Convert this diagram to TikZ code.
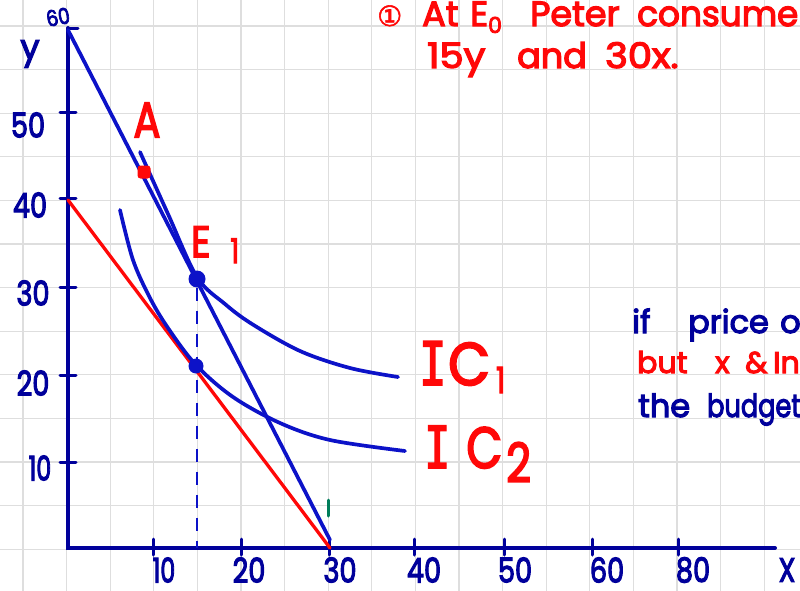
\documentclass[tikz,border=0pt]{standalone}
\usepackage{fontspec}
\usepackage{graphicx}
\setmainfont{Poppins}[FakeBold=3.5]
\newfontfamily\symf{DejaVu Sans}[FakeBold=2]
\newfontfamily\serifI{DejaVu Sans Mono}[FakeBold=3]
\definecolor{navy}{RGB}{0,0,155}
\definecolor{lblue}{RGB}{12,18,200}
\definecolor{hred}{RGB}{255,8,8}
\definecolor{hgreen}{RGB}{0,125,90}
\definecolor{gridc}{RGB}{222,222,222}
\newcommand{\fs}[1]{\fontsize{#1}{#1}\selectfont}
\newcommand{\sx}[2]{\scalebox{#1}[1]{#2}}
\newcommand{\wb}[2]{\makebox[#1][l]{#2}}
\tikzset{
  gridline/.style={draw=gridc, line width=1.3pt},
  axisline/.style={draw=navy, line width=4pt, line cap=round},
  tickline/.style={draw=navy, line width=3pt, line cap=round},
  bline/.style={draw=lblue, line width=3.7pt, line cap=round},
  rline/.style={draw=hred, line width=3.3pt, line cap=round},
  icline/.style={draw=lblue, line width=3.7pt, line cap=round},
  dashline/.style={draw=lblue, line width=2.6pt, dash pattern=on 13pt off 10pt},
  numlab/.style={text=navy, inner sep=0pt, font=\fs{34}},
  redlab/.style={text=hred, inner sep=0pt},
  bluetxt/.style={text=navy, inner sep=0pt},
  dotb/.style={circle, fill=lblue, inner sep=0pt, minimum size=17pt},
  dotr/.style={rectangle, rounded corners=3pt, fill=hred, inner sep=0pt, minimum size=13pt},
}
\begin{document}
\begin{tikzpicture}[x=1pt,y=-1pt]
\useasboundingbox (0,0) rectangle (800,591);
\clip (0,0) rectangle (800,591);
\fill[white] (0,0) rectangle (800,591);
% grid
\foreach \i in {0,...,17} \draw[gridline] ({23+43.6*\i},0) -- ({23+43.6*\i},591);
\foreach \j in {0,...,13} \draw[gridline] (0,{26+43.6*\j}) -- (800,{26+43.6*\j});
% axes
\coordinate (O) at (68,548);
\coordinate (Ytop) at (68,28);
\coordinate (Xend) at (775,548);
\draw[axisline] (Ytop) -- (O) -- (Xend);
% y ticks
\foreach \yy in {113,198,287,375,462} \draw[tickline] (60,\yy) -- (76,\yy);
\draw[tickline] (68,29) -- (78,29);
% x ticks
\foreach \xx in {153,241,329,414,504,592,678} \draw[tickline] (\xx,539) -- (\xx,555);
% budget lines
\coordinate (B0) at (68,30);
\coordinate (B1) at (330,540);
\coordinate (R0) at (68,200);
\coordinate (R1) at (330,548);
\draw[bline] (B0) -- (B1);
\draw[rline] (R0) -- (R1);
% indifference curves
\draw[icline] plot[smooth, tension=0.55] coordinates {(140,152) (168,214) (197,277) (225,304) (252,324) (300,351) (350,368) (398,377)};
\draw[icline] plot[smooth, tension=0.55] coordinates {(120,210) (133,260) (150,298) (168,328) (196,365) (233,397) (280,423) (330,440) (405,451)};
% points
\node[dotr] (A) at (144,172) {};
\node[dotb] (E1) at (197,279) {};
\node[dotb, minimum size=15pt] (E2) at (196,366) {};
\draw[dashline] (E1.south) -- (E1.south |- O);
% green mark
\coordinate (G0) at (328,500);
\coordinate (G1) at (328,516);
\draw[draw=hgreen, line width=3pt, line cap=round] (G0) -- (G1);
% axis labels
\node[numlab, font=\fs{34}] (ylab) at (30,54) {y};
\node[numlab, font=\fs{22}, rotate=10] (y60) at (58,17) {\sx{0.85}{60}};
\node[numlab] (y50) at (28,125) {\sx{0.8}{50}};
\node[numlab] (y40) at (30,205) {\sx{0.8}{40}};
\node[numlab] (y30) at (33,293) {\sx{0.8}{30}};
\node[numlab] (y20) at (33,383) {\sx{0.8}{20}};
\node[numlab] (y10) at (40,468) {\sx{0.7}{10}};
\node[numlab] (x10) at (164,570) {\sx{0.7}{10}};
\node[numlab] (x20) at (249,570) {\sx{0.8}{20}};
\node[numlab] (x30) at (340,570) {\sx{0.8}{30}};
\node[numlab] (x40) at (424,570) {\sx{0.8}{40}};
\node[numlab] (x50) at (515,570) {\sx{0.8}{50}};
\node[numlab] (x60) at (607,570) {\sx{0.8}{60}};
\node[numlab] (x80) at (693,570) {\sx{0.8}{80}};
\node[numlab] (xlab) at (787,570) {\sx{0.8}{X}};
% red labels
\node[redlab, font=\fs{50}] (Alab) at (147,120) {\sx{0.8}{A}};
\node[redlab, font=\fs{44}, anchor=base west] (E1lab) at (191,257) {\sx{0.85}{E}\hspace{20pt}\raisebox{-6pt}{\fs{34}\sx{0.8}{1}}};
\node[redlab, font=\fs{60}, anchor=base west] (IC1) at (419,385) {{\serifI\sx{0.75}{I}}\hspace{2pt}\sx{0.9}{C}\hspace{6pt}\raisebox{-8pt}{\fs{36}\sx{0.8}{1}}};
\node[redlab, font=\fs{58}, anchor=base west] (IC2) at (424,468) {{\serifI\sx{0.75}{I}}\hspace{16pt}\sx{0.8}{C}\hspace{4pt}\raisebox{-14pt}{\fs{54}\sx{0.8}{2}}};
% top text
\node[redlab, font=\fs{35}, anchor=base west] (t1) at (377,26) {\wb{45pt}{\symf\fs{28}①}\wb{48pt}{At}\wb{60pt}{E\raisebox{-7pt}{\fs{22}0}}\wb{107pt}{Peter}\sx{0.98}{consume}};
\node[redlab, font=\fs{35}, anchor=base west] (t2) at (427,68) {\wb{90pt}{\sx{1.1}{15y}}\wb{88pt}{and}\sx{1.1}{30x.}};
% right text
\node[bluetxt, font=\fs{32}, anchor=base west] (r1) at (632,333) {\wb{56pt}{if}\wb{92pt}{price}o};
\node[redlab, font=\fs{30}, anchor=base west] (r2) at (637,373) {\wb{78pt}{but}\wb{30pt}{x}\wb{28pt}{\&}In};
\node[bluetxt, font=\fs{32}, anchor=base west] (r3) at (638,417) {\wb{69pt}{the}\sx{0.8}{budget}};
\end{tikzpicture}
\end{document}
